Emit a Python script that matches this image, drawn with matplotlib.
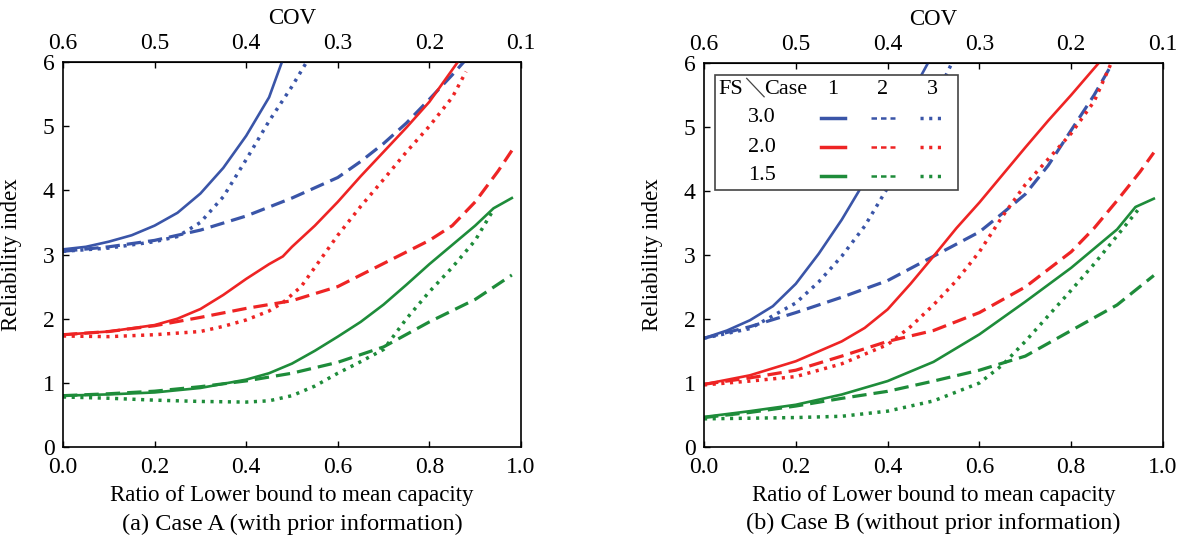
import matplotlib
matplotlib.use('Agg')
import matplotlib.pyplot as plt
from matplotlib.patches import Rectangle

plt.rcParams['font.family'] = ['Liberation Serif', 'DejaVu Serif']

BLUE = '#3a55a8'
RED = '#ee2424'
GREEN = '#1e8c3a'

# ---- Case A (with prior information) ----
a_blue1_x = [0, 0.05, 0.1, 0.15, 0.2, 0.25, 0.3, 0.35, 0.4, 0.45, 0.478]
a_blue1_y = [3.08, 3.12, 3.2, 3.3, 3.45, 3.65, 3.95, 4.35, 4.85, 5.45, 6.0]
a_blue2_x = [0, 0.1, 0.2, 0.3, 0.4, 0.5, 0.6, 0.65, 0.7, 0.75, 0.8, 0.85, 0.875]
a_blue2_y = [3.05, 3.12, 3.22, 3.38, 3.6, 3.88, 4.2, 4.45, 4.73, 5.05, 5.42, 5.8, 6.0]
a_blue3_x = [0, 0.1, 0.2, 0.25, 0.3, 0.35, 0.4, 0.45, 0.5, 0.532]
a_blue3_y = [3.05, 3.1, 3.2, 3.28, 3.5, 3.9, 4.48, 5.08, 5.62, 6.0]

a_red1_x = [0, 0.1, 0.2, 0.25, 0.3, 0.35, 0.4, 0.45, 0.48, 0.5, 0.55, 0.6, 0.65, 0.7, 0.75, 0.8, 0.862]
a_red1_y = [1.75, 1.8, 1.9, 2.0, 2.15, 2.37, 2.62, 2.85, 2.97, 3.12, 3.45, 3.82, 4.22, 4.6, 4.98, 5.38, 6.0]
a_red2_x = [0, 0.1, 0.2, 0.3, 0.4, 0.5, 0.6, 0.7, 0.8, 0.85, 0.9, 0.95, 0.98]
a_red2_y = [1.75, 1.8, 1.89, 2.02, 2.16, 2.28, 2.5, 2.86, 3.22, 3.45, 3.82, 4.3, 4.62]
a_red3_x = [0, 0.1, 0.2, 0.3, 0.35, 0.4, 0.45, 0.48, 0.52, 0.55, 0.6, 0.65, 0.7, 0.75, 0.8, 0.85, 0.88]
a_red3_y = [1.73, 1.72, 1.75, 1.8, 1.88, 1.98, 2.12, 2.25, 2.5, 2.8, 3.3, 3.75, 4.17, 4.6, 5.0, 5.45, 5.85]

a_green1_x = [0, 0.1, 0.2, 0.3, 0.4, 0.45, 0.5, 0.55, 0.6, 0.65, 0.7, 0.75, 0.8, 0.85, 0.9, 0.94, 0.98]
a_green1_y = [0.8, 0.82, 0.85, 0.92, 1.05, 1.15, 1.3, 1.5, 1.72, 1.95, 2.22, 2.53, 2.85, 3.15, 3.45, 3.72, 3.88]
a_green2_x = [0, 0.1, 0.2, 0.3, 0.4, 0.5, 0.6, 0.7, 0.8, 0.9, 0.98]
a_green2_y = [0.8, 0.83, 0.87, 0.94, 1.03, 1.15, 1.32, 1.56, 1.95, 2.3, 2.68]
a_green3_x = [0, 0.1, 0.2, 0.3, 0.4, 0.45, 0.5, 0.55, 0.6, 0.65, 0.7, 0.75, 0.8, 0.85, 0.9, 0.94]
a_green3_y = [0.78, 0.76, 0.73, 0.71, 0.7, 0.72, 0.8, 0.95, 1.15, 1.33, 1.52, 2.0, 2.42, 2.8, 3.22, 3.7]

# ---- Case B (without prior information) ----
b_blue1_x = [0, 0.05, 0.1, 0.15, 0.2, 0.25, 0.3, 0.35, 0.4, 0.45, 0.488]
b_blue1_y = [1.7, 1.82, 1.98, 2.2, 2.55, 3.02, 3.55, 4.15, 4.85, 5.5, 6.0]
b_blue2_x = [0, 0.1, 0.2, 0.3, 0.4, 0.5, 0.6, 0.65, 0.7, 0.75, 0.8, 0.85, 0.89]
b_blue2_y = [1.7, 1.88, 2.1, 2.34, 2.6, 2.98, 3.36, 3.65, 3.95, 4.4, 4.95, 5.5, 6.0]
b_blue3_x = [0, 0.1, 0.2, 0.25, 0.3, 0.35, 0.4, 0.45, 0.5, 0.54]
b_blue3_y = [1.7, 1.85, 2.25, 2.58, 2.98, 3.45, 4.05, 4.7, 5.4, 6.0]

b_red1_x = [0, 0.1, 0.2, 0.3, 0.35, 0.4, 0.45, 0.5, 0.55, 0.6, 0.65, 0.7, 0.75, 0.8, 0.86]
b_red1_y = [0.98, 1.12, 1.34, 1.65, 1.86, 2.15, 2.55, 2.98, 3.42, 3.82, 4.25, 4.68, 5.1, 5.5, 6.0]
b_red2_x = [0, 0.1, 0.2, 0.3, 0.4, 0.5, 0.6, 0.7, 0.8, 0.85, 0.9, 0.95, 0.98]
b_red2_y = [0.98, 1.08, 1.2, 1.42, 1.65, 1.82, 2.1, 2.5, 3.05, 3.42, 3.85, 4.3, 4.6]
b_red3_x = [0, 0.1, 0.2, 0.3, 0.4, 0.45, 0.5, 0.55, 0.6, 0.65, 0.7, 0.75, 0.8, 0.85, 0.886]
b_red3_y = [0.97, 1.03, 1.1, 1.3, 1.6, 1.88, 2.22, 2.6, 3.05, 3.6, 4.1, 4.5, 4.9, 5.4, 5.98]

b_green1_x = [0, 0.1, 0.2, 0.3, 0.4, 0.5, 0.6, 0.7, 0.8, 0.9, 0.94, 0.98]
b_green1_y = [0.47, 0.56, 0.66, 0.82, 1.03, 1.33, 1.76, 2.27, 2.8, 3.4, 3.75, 3.88]
b_green2_x = [0, 0.1, 0.2, 0.3, 0.4, 0.5, 0.6, 0.7, 0.8, 0.9, 0.98]
b_green2_y = [0.46, 0.54, 0.64, 0.76, 0.87, 1.03, 1.2, 1.42, 1.82, 2.22, 2.68]
b_green3_x = [0, 0.1, 0.2, 0.3, 0.4, 0.5, 0.6, 0.65, 0.7, 0.75, 0.8, 0.85, 0.9, 0.945]
b_green3_y = [0.44, 0.45, 0.46, 0.48, 0.56, 0.72, 1.0, 1.28, 1.65, 2.05, 2.45, 2.86, 3.3, 3.7]

x_ticks = [0.0, 0.2, 0.4, 0.6, 0.8, 1.0]
y_ticks = [0, 1, 2, 3, 4, 5, 6]
cov_ticks = [0.6, 0.5, 0.4, 0.3, 0.2, 0.1]
fs_labels = ['3.0', '2.0', '1.5']
case_labels = ['1', '2', '3']

STYLES = {
    1: dict(linestyle='-', linewidth=1.9),
    2: dict(linestyle=(0, (4.5, 2.2)), linewidth=2.3),
    3: dict(linestyle=(0, (0.9, 1.6)), linewidth=2.5),
}

case_a = [
    (a_blue1_x, a_blue1_y, BLUE, 1), (a_blue2_x, a_blue2_y, BLUE, 2), (a_blue3_x, a_blue3_y, BLUE, 3),
    (a_red1_x, a_red1_y, RED, 1), (a_red2_x, a_red2_y, RED, 2), (a_red3_x, a_red3_y, RED, 3),
    (a_green1_x, a_green1_y, GREEN, 1), (a_green2_x, a_green2_y, GREEN, 2), (a_green3_x, a_green3_y, GREEN, 3),
]
case_b = [
    (b_blue1_x, b_blue1_y, BLUE, 1), (b_blue2_x, b_blue2_y, BLUE, 2), (b_blue3_x, b_blue3_y, BLUE, 3),
    (b_red1_x, b_red1_y, RED, 1), (b_red2_x, b_red2_y, RED, 2), (b_red3_x, b_red3_y, RED, 3),
    (b_green1_x, b_green1_y, GREEN, 1), (b_green2_x, b_green2_y, GREEN, 2), (b_green3_x, b_green3_y, GREEN, 3),
]


def draw_panel(ax, curves, caption):
    for x, y, c, case in curves:
        ax.plot(x, y, color=c, **STYLES[case])
    ax.set_xlim(0, 1)
    ax.set_ylim(0, 6)
    ax.set_xticks(x_ticks)
    ax.set_xticklabels(['%.1f' % t for t in x_ticks])
    ax.set_yticks(y_ticks)
    ax.tick_params(direction='in', length=4, width=1, labelsize=17, top=False, right=False)
    ax.tick_params(axis='x', pad=7)
    ax.tick_params(axis='y', pad=6)
    for s in ax.spines.values():
        s.set_linewidth(1.2)
    ax.set_ylabel('Reliability index', fontsize=16.5)
    ax.yaxis.set_label_coords(-0.09, 0.5)
    ax.set_xlabel('Ratio of Lower bound to mean capacity', fontsize=16.5)
    ax.xaxis.set_label_coords(0.5, -0.1)

    top = ax.secondary_xaxis('top', functions=(lambda v: 0.6 - 0.5 * v, lambda c: (0.6 - c) / 0.5))
    top.set_xticks(cov_ticks)
    top.set_xticklabels(['%.1f' % t for t in cov_ticks])
    top.tick_params(direction='in', length=4, width=1, labelsize=17, pad=6)
    top.set_xlabel('COV', fontsize=16.5, labelpad=6)

    ax.text(0.5, -0.2, caption, transform=ax.transAxes, ha='center', va='center', fontsize=17.5)


fig = plt.figure(figsize=(11.84, 5.42), dpi=100)
ax1 = fig.add_axes([63 / 1184, 1 - 447 / 542, 458 / 1184, 385 / 542])
ax2 = fig.add_axes([704 / 1184, 1 - 447 / 542, 459 / 1184, 384 / 542])

draw_panel(ax1, case_a, '(a) Case A (with prior information)')
draw_panel(ax2, case_b, '(b) Case B (without prior information)')

# table-style legend in panel (b)
box = Rectangle((0.024, 0.669), 0.529, 0.30, transform=ax2.transAxes, facecolor='white',
                edgecolor='#444444', linewidth=1.2, zorder=5)
ax2.add_patch(box)
ax2.text(0.058, 0.932, 'FS', transform=ax2.transAxes, ha='center', va='center', fontsize=16, zorder=6)
ax2.plot([0.093, 0.131], [0.960, 0.912], transform=ax2.transAxes, color='#444444', linewidth=0.9, zorder=6)
ax2.text(0.179, 0.932, 'Case', transform=ax2.transAxes, ha='center', va='center', fontsize=16, zorder=6)
col_x = [0.281, 0.390, 0.497]
col_half = 0.027
row_y = [0.857, 0.781, 0.706]
for cx, lab in zip(col_x, case_labels):
    ax2.text(cx, 0.93, lab, transform=ax2.transAxes, ha='center', va='center', fontsize=16, zorder=6)
for ry, lab, c in zip(row_y, fs_labels, [BLUE, RED, GREEN]):
    ax2.text(0.126, ry, lab, transform=ax2.transAxes, ha='center', va='center', fontsize=16, zorder=6)
    for cx, case in zip(col_x, [1, 2, 3]):
        st = dict(STYLES[case])
        if case == 1:
            st['linewidth'] = 2.5
        if case == 2:
            st['linestyle'] = (0, (2.2, 1.6))
            st['linewidth'] = 1.8
        ax2.plot([cx - col_half, cx + col_half], [ry, ry], transform=ax2.transAxes, color=c, zorder=6, **st)

fig.savefig('out.png', dpi=100)
